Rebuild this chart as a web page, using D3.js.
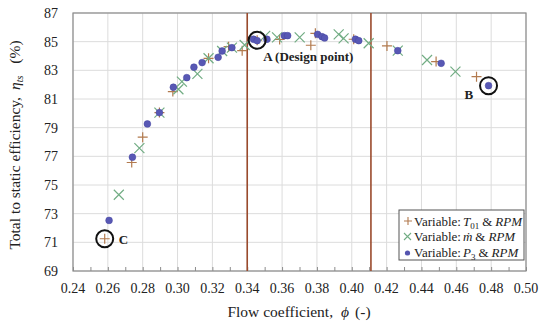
<!DOCTYPE html>
<html>
<head>
<meta charset="utf-8">
<script src="https://cdn.jsdelivr.net/npm/d3@7"></script>
<style>
  body { margin: 0; background: #fff; }
  svg, svg text { font-family: "Liberation Serif", "Times New Roman", "DejaVu Serif", serif; }
</style>
</head>
<body>
<svg id="chart" width="550" height="326"></svg>
<script>
var width = 550,
    height = 326

// series: [phi, eta_ts]
var t01Data = [[0.2582,71.25],[0.2737,76.57],[0.2800,78.34],[0.2896,80.05],[0.2973,81.52],
  [0.3178,83.84],[0.3293,84.65],[0.3371,84.37],[0.3457,85.10],[0.3586,85.15],[0.3765,84.75],
  [0.3791,85.58],[0.4011,85.17],[0.4202,84.70],[0.4484,83.61],[0.4716,82.56]];
var mdotData = [[0.2663,74.32],[0.2781,77.57],[0.2896,80.05],[0.3005,81.68],[0.3025,82.21],
  [0.3114,82.75],[0.3178,83.84],[0.3256,84.35],[0.3312,84.58],[0.3385,84.77],[0.3503,85.40],
  [0.3571,85.30],[0.3701,85.30],[0.3925,85.51],[0.3953,85.23],[0.4097,84.89],[0.4264,84.37],
  [0.4432,83.72],[0.4595,82.91]];
var p3Data = [[0.2607,72.53],[0.2741,76.94],[0.2827,79.26],[0.2896,80.05],[0.2976,81.82],
  [0.3053,82.49],[0.3094,83.22],[0.3141,83.54],[0.3233,83.91],[0.3256,84.35],[0.3312,84.58],
  [0.3436,85.17],[0.3457,85.07],[0.3513,85.17],[0.3613,85.42],[0.3632,85.42],[0.3804,85.51],
  [0.3829,85.35],[0.3844,85.26],[0.4021,85.17],[0.4040,85.07],[0.4264,84.37],[0.4513,83.49],
  [0.4785,81.93]];

var xTicks = [0.24,0.26,0.28,0.30,0.32,0.34,0.36,0.38,0.40,0.42,0.44,0.46,0.48,0.50];
var yTicks = [69,71,73,75,77,79,81,83,85,87];
var limitLines = [0.34, 0.411];
// labelled points: [phi, eta, label]
var marked = [[0.3457,85.10,"A (Design point)"],[0.4785,81.93,"B"],[0.2582,71.25,"C"]];

var serif = "'Liberation Serif', 'Times New Roman', 'DejaVu Serif', serif";
var margin = ({top: 13, right: 24, bottom: 55, left: 73});

var x = d3.scaleLinear()
    .domain([0.24, 0.50])
    .range([margin.left, width - margin.right]);

var y = d3.scaleLinear()
    .domain([69, 87])
    .range([height - margin.bottom, margin.top]);

var svg = d3.select("#chart").attr("font-family", serif);

// grid
svg.append("g")
  .selectAll("line")
  .data(xTicks).enter()
  .append("line")
    .attr("x1", d => x(d)).attr("x2", d => x(d))
    .attr("y1", y(69)).attr("y2", y(87))
    .attr("stroke", "#dcdcdc").attr("stroke-width", 1);

svg.append("g")
  .selectAll("line")
  .data(yTicks).enter()
  .append("line")
    .attr("x1", x(0.24)).attr("x2", x(0.50))
    .attr("y1", d => y(d)).attr("y2", d => y(d))
    .attr("stroke", "#dcdcdc").attr("stroke-width", 1);

// frame
svg.append("rect")
  .attr("x", x(0.24)).attr("y", y(87))
  .attr("width", x(0.50) - x(0.24)).attr("height", y(69) - y(87))
  .attr("fill", "none").attr("stroke", "#8c8c8c").attr("stroke-width", 1.2);

// x axis with inward ticks
var xAxis = g => g
  .attr("transform", `translate(0,${y(69)})`)
  .call(d3.axisTop(x).tickValues(d3.range(0.24, 0.505, 0.01)).tickSize(4).tickFormat(""))
  .call(g => g.select(".domain").remove())
  .call(g => g.selectAll(".tick line").attr("stroke", "#8c8c8c"));

svg.append("g").call(xAxis);

svg.append("g")
  .selectAll("text")
  .data(xTicks).enter()
  .append("text")
    .attr("x", d => x(d))
    .attr("y", y(69) + 22)
    .attr("text-anchor", "middle")
    .attr("font-family", serif)
    .attr("font-size", "14px")
    .attr("fill", "#222")
    .text(d => d.toFixed(2));

svg.append("g")
  .selectAll("text")
  .data(yTicks).enter()
  .append("text")
    .attr("x", x(0.24) - 15)
    .attr("y", d => y(d) + 5)
    .attr("text-anchor", "end")
    .attr("font-family", serif)
    .attr("font-size", "14px")
    .attr("fill", "#222")
    .text(d => d);

// limit lines
svg.append("g")
  .selectAll("line")
  .data(limitLines).enter()
  .append("line")
    .attr("x1", d => x(d)).attr("x2", d => x(d))
    .attr("y1", y(87)).attr("y2", y(69))
    .attr("stroke", "#9a4a2c").attr("stroke-width", 1.6);

// markers
svg.append("g")
  .selectAll("path")
  .data(t01Data).enter()
  .append("path")
    .attr("d", d => `M${x(d[0]) - 5},${y(d[1])}h10M${x(d[0])},${y(d[1]) - 5}v10`)
    .attr("stroke", "#b27a4e").attr("stroke-width", 1.2).attr("fill", "none");

svg.append("g")
  .selectAll("path")
  .data(mdotData).enter()
  .append("path")
    .attr("d", d => `M${x(d[0]) - 5},${y(d[1]) - 5}l10,10M${x(d[0]) - 5},${y(d[1]) + 5}l10,-10`)
    .attr("stroke", "#72ad84").attr("stroke-width", 1.2).attr("fill", "none");

svg.append("g")
  .selectAll("circle")
  .data(p3Data).enter()
  .append("circle")
    .attr("cx", d => x(d[0]))
    .attr("cy", d => y(d[1]))
    .attr("r", 3.4)
    .attr("fill", "#5858b4")
    .attr("stroke", "#4444a0").attr("stroke-width", 0.5);

// highlighted points
svg.append("g")
  .selectAll("circle")
  .data(marked).enter()
  .append("circle")
    .attr("cx", d => x(d[0]))
    .attr("cy", d => y(d[1]))
    .attr("r", 8.5)
    .attr("fill", "none")
    .attr("stroke", "#111").attr("stroke-width", 2);

svg.append("text")
  .attr("x", x(marked[0][0]) + 6).attr("y", y(marked[0][1]) + 21)
  .attr("font-family", serif)
  .attr("font-size", "13px").attr("font-weight", "bold").attr("fill", "#222")
  .text(marked[0][2]);

svg.append("text")
  .attr("x", x(marked[1][0]) - 24).attr("y", y(marked[1][1]) + 13)
  .attr("font-family", serif)
  .attr("font-size", "13px").attr("font-weight", "bold").attr("fill", "#222")
  .text(marked[1][2]);

svg.append("text")
  .attr("x", x(marked[2][0]) + 14).attr("y", y(marked[2][1]) + 5)
  .attr("font-family", serif)
  .attr("font-size", "13px").attr("font-weight", "bold").attr("fill", "#222")
  .text(marked[2][2]);

// legend
var lg = svg.append("g").attr("transform", "translate(399,210)");
lg.append("rect")
  .attr("width", 125).attr("height", 50)
  .attr("fill", "#fff").attr("stroke", "#555").attr("stroke-width", 1);

lg.append("path")
  .attr("d", "M5,11h8M9,7v8")
  .attr("stroke", "#b27a4e").attr("stroke-width", 1.1);
lg.append("path")
  .attr("d", "M5,23l7,7M5,30l7,-7")
  .attr("stroke", "#72ad84").attr("stroke-width", 1.1);
lg.append("circle")
  .attr("cx", 8.5).attr("cy", 43).attr("r", 2.6)
  .attr("fill", "#5555b0");

function legendText(yPos) {
  return lg.append("text").attr("x", 15).attr("y", yPos)
    .attr("font-family", serif).attr("font-size", "13px").attr("fill", "#222");
}

var t1 = legendText(15.5);
t1.append("tspan").text("Variable:");
t1.append("tspan").attr("dx", 2).attr("font-style", "italic").text("T");
t1.append("tspan").attr("font-size", "9px").attr("dy", 3).text("01");
t1.append("tspan").attr("dy", -3).attr("dx", 3).text("&");
t1.append("tspan").attr("dx", 3).attr("font-style", "italic").text("RPM");

var t2 = legendText(31);
t2.append("tspan").text("Variable:");
t2.append("tspan").attr("dx", 2).attr("font-style", "italic").text("ṁ");
t2.append("tspan").attr("dx", 3).text("&");
t2.append("tspan").attr("dx", 3).attr("font-style", "italic").text("RPM");

var t3 = legendText(46.5);
t3.append("tspan").text("Variable:");
t3.append("tspan").attr("dx", 2).attr("font-style", "italic").text("P");
t3.append("tspan").attr("font-size", "9px").attr("dy", 3).text("3");
t3.append("tspan").attr("dy", -3).attr("dx", 3).text("&");
t3.append("tspan").attr("dx", 3).attr("font-style", "italic").text("RPM");

// axis titles
var xt = svg.append("text")
  .attr("x", 299).attr("y", 317)
  .attr("text-anchor", "middle")
  .attr("font-family", serif)
  .attr("font-size", "15.5px").attr("fill", "#222");
xt.append("tspan").text("Flow coefficient,");
xt.append("tspan").attr("dx", 8).attr("font-style", "italic").text("ϕ");
xt.append("tspan").attr("dx", 6).text("(-)");

var yt = svg.append("text")
  .attr("transform", "translate(20,145) rotate(-90)")
  .attr("text-anchor", "middle")
  .attr("font-family", serif)
  .attr("font-size", "15.5px").attr("fill", "#222");
yt.append("tspan").text("Total to static efficiency,");
yt.append("tspan").attr("dx", 7).attr("font-style", "italic").text("η");
yt.append("tspan").attr("font-style", "italic").attr("font-size", "10px").attr("dy", 3).text("ts");
yt.append("tspan").attr("dy", -3).attr("dx", 12).text("(%)");
</script>
</body>
</html>
